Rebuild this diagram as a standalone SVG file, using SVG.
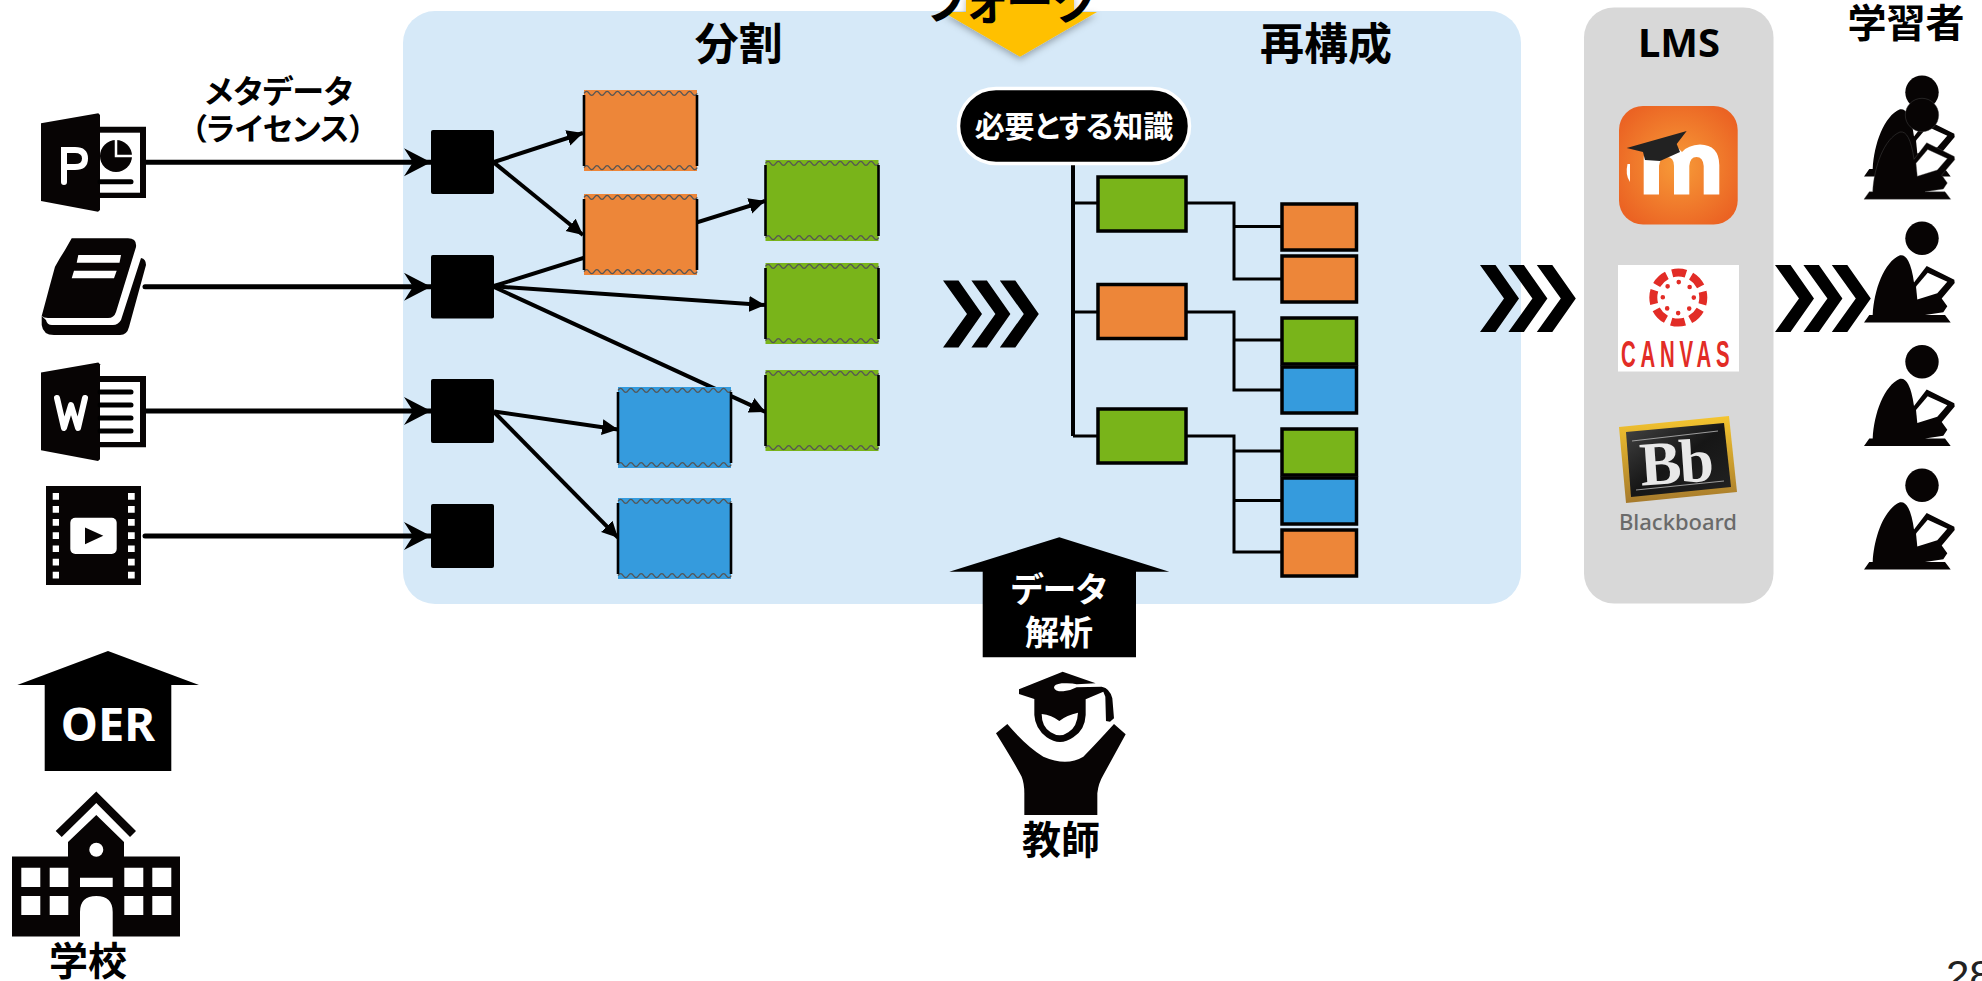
<svg xmlns="http://www.w3.org/2000/svg" xmlns:xlink="http://www.w3.org/1999/xlink" width="1982" height="981" viewBox="0 0 1982 981">
<style>
text{font-family:"Noto Sans CJK JP","Noto Sans",sans-serif;font-weight:700;font-feature-settings:"palt";text-anchor:middle;fill:#000}
.w{fill:#fff}
.ln{fill:none;stroke:#000;stroke-width:4}
.in{marker-end:url(#stealth);stroke-linecap:round;stroke-width:5}
.ar{marker-end:url(#tri)}
.tr{fill:none;stroke:#000;stroke-width:3}
.o{fill:#ED8639}.g{fill:#79B41A}.b{fill:#359BDD}
.n{stroke:#000;stroke-width:3.5}
.l{stroke:#000;stroke-width:3.5}
.k{fill:#070404}
.wh{fill:#fff}
</style>
<defs>
<marker id="stealth" markerUnits="userSpaceOnUse" markerWidth="30" markerHeight="30" refX="27" refY="14" orient="auto"><path d="M0 0L27 14L0 28L9 14Z" fill="#000"/></marker>
<marker id="tri" markerUnits="userSpaceOnUse" markerWidth="18" markerHeight="18" refX="16" refY="8" orient="auto"><path d="M0 0L16 8L0 16Z" fill="#000"/></marker>
<g id="frag">
<rect width="113" height="81"/>
<path id="wv" d="M0 3.4q2.6-4 5.15 0t5.15 0t5.15 0t5.15 0t5.15 0t5.15 0t5.15 0t5.15 0t5.15 0t5.15 0t5.15 0t5.15 0t5.15 0t5.15 0t5.15 0t5.15 0t5.15 0t5.15 0t5.15 0t5.15 0t5.15 0t5.15 0" fill="none" stroke="#555" stroke-width="1.2"/>
<use xlink:href="#wv" href="#wv" y="74.2"/>
<path d="M0 5V76M113 5V76" fill="none" stroke="#000" stroke-width="2.6"/>
</g>
<g id="chev"><path d="M0 0H15.500L39 33.500L15.500 67H0L24 33.500Z" fill="#000"/></g>
<g id="chevs"><use xlink:href="#chev" href="#chev"/><use xlink:href="#chev" href="#chev" x="28.400"/><use xlink:href="#chev" href="#chev" x="56.800"/></g>
<g id="learner">
<circle cx="1922" cy="238.300" r="16.700"/>
<path d="M1869.300 315H1872.700C1874 290 1884 262 1900 255.300Q1905 254.500 1908.300 260.900Q1912 268 1914 282.600L1926.700 266L1954.300 279.800L1954.700 283L1941.700 298.400L1947.300 306.300L1943.300 312.300L1925 315H1945L1950.700 322.500H1864Z"/>
<path d="M1916 286.600L1927.700 272.700L1947.300 281.800L1937.300 293.300L1917.300 299.600Z" fill="#fff"/>
</g>
<filter id="sh" x="-30%" y="-30%" width="160%" height="170%"><feDropShadow dx="0" dy="3" stdDeviation="3.500" flood-color="#000" flood-opacity=".3"/></filter>
<radialGradient id="moo" cx=".5" cy=".5" r=".6"><stop offset="0" stop-color="#F79B38"/><stop offset="1" stop-color="#EB6323"/></radialGradient>
<linearGradient id="gold" x1="0" y1="0" x2="0" y2="1"><stop offset="0" stop-color="#F5C52F"/><stop offset="1" stop-color="#A67A2C"/></linearGradient>
<linearGradient id="bbk" x1="0" y1="0" x2="1" y2="1"><stop offset="0" stop-color="#444"/><stop offset=".5" stop-color="#161616"/><stop offset="1" stop-color="#222"/></linearGradient>
<clipPath id="mc"><rect x="190" y="60" width="180" height="82.500"/></clipPath>
</defs>

<rect id="panel-main" x="403" y="11" width="1118" height="593" rx="32" fill="#D6E9F8"/>
<rect id="panel-lms" x="1584" y="7.500" width="189.500" height="596" rx="30" fill="#D8D8D8"/>

<g id="connectors">
<path class="ln in" d="M146 162.300H431"/>
<path class="ln in" d="M145 286.800H431"/>
<path class="ln in" d="M146 411H431"/>
<path class="ln in" d="M145 536H431"/>
<path class="ln ar" d="M494 162L583 133"/>
<path class="ln ar" d="M494 162.600L583 235"/>
<path class="ln ar" d="M494 286L765 201"/>
<path class="ln ar" d="M494 286.300L765 305"/>
<path class="ln ar" d="M494 287L765.500 412"/>
<path class="ln ar" d="M494 411.400L618 429.400"/>
<path class="ln ar" d="M494 412L618 537.700"/>
<path class="tr" style="stroke-width:4" d="M1073 165V436"/>
<path class="tr" d="M1073 203H1098M1073 312H1098M1073 436H1098"/>
<path class="tr" d="M1186 203H1234V279H1282M1234 226.600H1282M1186 312H1234V390H1282M1234 340H1282M1186 436H1234V552H1282M1234 451H1282M1234 500.600H1282"/>
</g>

<g id="src-ppt"><path class="k" d="M41 123.300L98.300 113.300L100 115V210L98 211.700L41 201Z"/><path class="k" d="M100 126.700H146V198H100Z"/><rect class="wh" x="100" y="132.700" width="40" height="60"/><circle class="k" cx="116" cy="156" r="16"/><path d="M116 139V156H133" fill="none" stroke="#fff" stroke-width="2.500"/><path d="M100 181.700H131" stroke="#000" stroke-width="5" stroke-linecap="round"/><path d="M64 182V150H75Q85 150 85 158.500T75 167H64" fill="none" stroke="#fff" stroke-width="6" stroke-linecap="round"/></g>
<g id="src-book"><path class="k" d="M71.700 238.300H128Q137 238.300 136 247L116 312Q114 318 108 318H48Q44 318 41.700 316L46 300L50 285L55 266.700L60 258L65 250Z"/><path class="k" d="M41.700 316V325Q43 335 54 335H120Q127 335 129 327L146 265Q146 259 141 258L121 320Q118 325 113 325H52Q47 325 46 320Z"/><path class="wh" d="M78.300 255H121L119.500 262.700H76.700ZM74 270.700H116.700L114 278.300H71.700Z"/></g>
<g id="src-word"><path class="k" d="M41 372.600L98.300 362.600L100 364.300V459.300L98 461L41 450.300Z"/><path class="k" d="M100 376H146V447.300H100Z"/><rect class="wh" x="100" y="382" width="40" height="60"/><path d="M100 392H131M100 405H131M100 418H131M100 431H131" stroke="#000" stroke-width="5" stroke-linecap="round"/><path d="M57 398L64 428L71 405L78 428L85 398" fill="none" stroke="#fff" stroke-width="6" stroke-linecap="round" stroke-linejoin="round"/></g>
<g id="src-film"><rect class="k" x="46" y="486" width="95" height="99" fill="#000"/><path class="wh" d="M52.700 493h6.300v6.700h-6.300zM52.700 506h6.300v6.700h-6.300zM52.700 519h6.300v6.700h-6.300zM52.700 532.300h6.300v6.700h-6.300zM52.700 545.400h6.300v6.700h-6.300zM52.700 558.700h6.300v6.700h-6.300zM52.700 571.700h6.300v6.700h-6.300zM128 493h6.700v6.700h-6.700zM128 506h6.700v6.700h-6.700zM128 519h6.700v6.700h-6.700zM128 532.300h6.700v6.700h-6.700zM128 545.400h6.700v6.700h-6.700zM128 558.700h6.700v6.700h-6.700zM128 571.700h6.700v6.700h-6.700z"/><rect class="wh" x="70.300" y="517.800" width="46.400" height="36.100" rx="5"/><path class="k" d="M85 527.500L103.300 535.700L85 544.200Z"/></g>

<g id="label-meta"><text x="279" y="103" font-size="32">メタデータ</text><g clip-path="url(#mc)"><text x="278" y="140" font-size="31">（ライセンス）</text></g></g>

<g id="oer"><path d="M108 651L199 685H171.300V771H44.700V685H17.300Z" fill="#000"/><text class="w" x="108" y="741" font-size="47" style="font-family:'Noto Sans',sans-serif">OER</text></g>
<g id="school"><path class="k" d="M12 856.500H68V842L96.300 815L124 842V856.500H180V936.500H112.700V912Q112.700 896 96.300 896Q80 896 80 912V936.500H12Z"/><path class="k" d="M96.300 791.500L136 831L130 837L96.300 803L61.700 837L55.700 831Z"/><ellipse class="wh" cx="96.300" cy="849.800" rx="7" ry="7"/><path class="wh" d="M21.300 867.700h19v19.300h-19zM49.700 867.700h18.600v19.300h-18.600zM124.300 867.700h19v19.300h-19zM152.300 867.700h19v19.300h-19zM21.300 896h19v19h-19zM49.700 896h18.600v19h-18.600zM124.300 896h19v19h-19zM152.300 896h19v19h-19zM80 877.700h32.700v9.300h-32.700z"/><text x="88" y="975" font-size="39">学校</text></g>

<g id="seg1"><rect x="431" y="130" width="63" height="64" rx="2"/></g>
<g id="seg2"><rect x="431" y="255" width="63" height="63.500" rx="2"/></g>
<g id="seg3"><rect x="431" y="379" width="63" height="64" rx="2"/></g>
<g id="seg4"><rect x="431" y="504" width="63" height="64" rx="2"/></g>

<g id="frag-o1" class="o"><use xlink:href="#frag" href="#frag" x="584" y="90"/></g>
<g id="frag-o2" class="o"><use xlink:href="#frag" href="#frag" x="584" y="194"/></g>
<g id="frag-g1" class="g"><use xlink:href="#frag" href="#frag" x="765.500" y="160"/></g>
<g id="frag-g2" class="g"><use xlink:href="#frag" href="#frag" x="765.500" y="263"/></g>
<g id="frag-g3" class="g"><use xlink:href="#frag" href="#frag" x="765.500" y="370"/></g>
<g id="frag-b1" class="b"><use xlink:href="#frag" href="#frag" x="618" y="387"/></g>
<g id="frag-b2" class="b"><use xlink:href="#frag" href="#frag" x="618" y="498"/></g>

<g id="title-split"><text x="738.700" y="60" font-size="44">分割</text></g>
<g id="title-recon"><text x="1326" y="60" font-size="44">再構成</text></g>

<use xlink:href="#chevs" href="#chevs" x="943" y="280.500"/>
<use xlink:href="#chevs" href="#chevs" x="1480" y="265"/>
<use xlink:href="#chevs" href="#chevs" x="1775" y="265"/>

<g id="fork"><path d="M966 -5H1074V12H1097L1020 56.700L943 12H966Z" fill="#FFC000" filter="url(#sh)"/><text x="1010" y="19" font-size="48">フォーク</text></g>

<g id="pill"><rect x="958.500" y="88.500" width="231" height="75" rx="37.500" fill="#000" stroke="#fff" stroke-width="3.500"/><text class="w" x="1074" y="137" font-size="30">必要とする知識</text></g>

<g id="t-g1"><rect class="g n" x="1098" y="177" width="88" height="54"/></g>
<g id="t-o1"><rect class="o n" x="1098" y="284.500" width="88" height="54"/></g>
<g id="t-g2"><rect class="g n" x="1098" y="409" width="88" height="54"/></g>
<g id="l1"><rect class="o l" x="1282" y="204" width="74.500" height="46"/></g>
<g id="l2"><rect class="o l" x="1282" y="256" width="74.500" height="46"/></g>
<g id="l3"><rect class="g l" x="1282" y="318" width="74.500" height="46"/></g>
<g id="l4"><rect class="b l" x="1282" y="367" width="74.500" height="46"/></g>
<g id="l5"><rect class="g l" x="1282" y="429" width="74.500" height="46"/></g>
<g id="l6"><rect class="b l" x="1282" y="478" width="74.500" height="46"/></g>
<g id="l7"><rect class="o l" x="1282" y="530" width="74.500" height="46"/></g>

<g id="analysis"><path d="M1059.300 537.300L1169.300 571.700H1136V657.300H982.700V571.700H949.300Z" fill="#000"/><text class="w" x="1059" y="602" font-size="34">データ</text><text class="w" x="1059" y="645" font-size="34">解析</text></g>
<g id="teacher"><g transform="translate(920 520) scale(.33333)"><path class="k" d="M297 508L428 455L527 490L470 493Q455 488 425 490Q402 493 402 503Q405 515 430 514Q450 513 470 502L545 500Q570 505 577 535L582 595L570 605L558 603L556 530L550 515L497 538V585Q495 630 460 652Q420 680 380 652Q345 625 343 585V537L297 522Z"/><path class="wh" d="M365 582Q395 585 418 603Q440 585 474 578Q472 620 445 637Q420 655 392 637Q365 620 365 582Z"/><path class="k" d="M262 612L228 640Q290 740 305 770Q313 790 313 820V885H532V820Q535 790 550 765L617 643L582 612Q520 680 490 710Q440 740 370 710Q320 680 262 612Z"/></g><text x="1061" y="854" font-size="39">教師</text></g>

<g id="lms"><text x="1679" y="56.500" font-size="40" style="font-family:'Noto Sans',sans-serif">LMS</text></g>
<g id="moodle"><rect x="1619" y="106" width="118.700" height="118.500" rx="24" fill="url(#moo)"/><path d="M1643.700 194.500V158Q1644 148 1660 146H1665Q1678 146 1682 152Q1688 145 1700 144.500Q1719 145 1719.300 165V194.500H1703.700V166Q1703 157 1696.500 157Q1690 157 1689.300 166V194.500H1674V166Q1674 157 1666.500 157Q1660 157 1659 166V194.500Z" fill="#fff"/><path d="M1626.700 148L1686.700 131L1676.700 144L1680 152L1660 161L1645 160L1643 152Z" fill="#222"/><path d="M1627.500 164Q1625 175 1630 182V164Z" fill="#fff"/></g>
<g id="canvas"><rect x="1618" y="265" width="121" height="106.500" fill="#fff"/><circle cx="1678.300" cy="297.600" r="25" fill="none" stroke="#E22C26" stroke-width="8" stroke-dasharray="14 5.635" stroke-dashoffset="7"/><circle cx="1678.300" cy="297.600" r="15.500" fill="none" stroke="#E22C26" stroke-width="4.600" stroke-linecap="round" stroke-dasharray="0 12.174"/><text transform="translate(1621 367) scale(.55 1)" x="0" y="0" font-size="37" style="font-family:'Liberation Sans',sans-serif;text-anchor:start;fill:#E22C26;letter-spacing:8.800px">CANVAS</text></g>
<g id="blackboard"><path d="M1619 427L1729 416L1737 492L1626 503Z" fill="url(#gold)"/><path d="M1626 432L1724 423L1731 487L1631 497Z" fill="url(#bbk)"/><path d="M1632 441L1718 431M1636 490L1724 481" stroke="#bbb" stroke-width=".8"/><text transform="translate(1677 483) rotate(-4)" x="0" y="0" font-size="62" style="font-family:'Liberation Serif',serif;fill:#e8e8e8;letter-spacing:-2px">Bb</text><text x="1678" y="529.500" font-size="22" textLength="118" style="font-family:'Noto Sans',sans-serif;font-weight:500;fill:#6a6a6a">Blackboard</text></g>

<g id="title-learners"><text x="1906" y="37" font-size="39">学習者</text></g>
<g id="learner1" class="k"><use xlink:href="#learner" href="#learner" y="-146"/><use xlink:href="#learner" href="#learner" y="-123.300" stroke="#555" stroke-width=".4"/></g>
<g id="learner2" class="k"><use xlink:href="#learner" href="#learner"/></g>
<g id="learner3" class="k"><use xlink:href="#learner" href="#learner" y="123.500"/></g>
<g id="learner4" class="k"><use xlink:href="#learner" href="#learner" y="247"/></g>

<g id="page"><text x="1946" y="990" font-size="42" style="font-family:'Liberation Sans',sans-serif;font-weight:400;text-anchor:start;fill:#222">28</text></g>
</svg>
